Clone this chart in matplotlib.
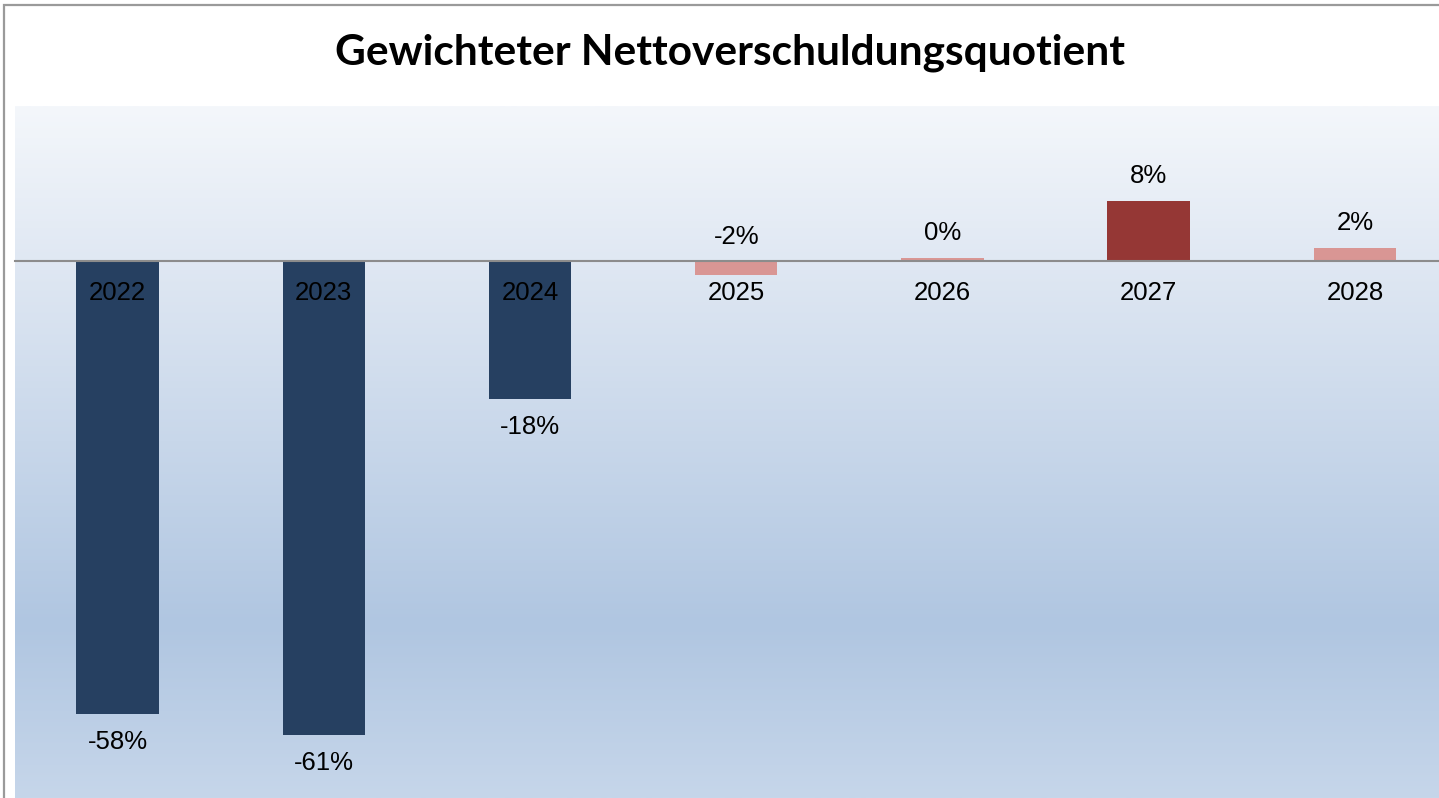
import numpy as np
import matplotlib
matplotlib.use("Agg")
from matplotlib import pyplot as plt
from matplotlib.colors import LinearSegmentedColormap

# data
years = ["2022", "2023", "2024", "2025", "2026", "2027", "2028"]
values = [-58.0, -60.7, -17.6, -1.8, 0.45, 7.75, 1.75]
bar_colors = ["#264061", "#264061", "#264061", "#D99694", "#D99694", "#953735", "#D99694"]
title = "Gewichteter Nettoverschuldungsquotient"

plt.rcParams['font.family'] = ['Liberation Sans', 'DejaVu Sans']

W, H = 1439, 798
fig = plt.figure(figsize=(W / 100, H / 100), dpi=100)

# outer chart border (right/bottom edges are cropped in the original)
fig.patches.append(plt.Rectangle((3.5 / W, -0.05), 1.1, 1 - 4.5 / H + 0.05,
                                 transform=fig.transFigure, fill=False,
                                 edgecolor="#9A9A9A", linewidth=1.6))

# plot area, runs past the right edge like the original
left, right, top = 14.5, 1458, 106
ax = fig.add_axes([left / W, 0, (right - left) / W, 1 - top / H])

# gradient fill of plot area
grad = LinearSegmentedColormap.from_list(
    "bg", [(0.0, "#F4F7FB"), (0.22, "#E0E8F3"), (0.75, "#B0C6E1"), (1.0, "#C6D6EA")])
ax.imshow(np.linspace(0, 1, 256).reshape(-1, 1), cmap=grad, aspect="auto",
          extent=[0, 1, 0, 1], transform=ax.transAxes, zorder=0)

x = np.arange(len(years))
ax.bar(x, values, width=0.40, color=bar_colors, zorder=1)

ax.set_xlim(-0.5, len(years) - 0.5)
ax.set_ylim(-68.8, 19.9)

# category axis at zero
for s in ["top", "right", "left"]:
    ax.spines[s].set_visible(False)
ax.spines["bottom"].set_position(("data", 0))
ax.spines["bottom"].set_color("#8C8C8C")
ax.spines["bottom"].set_linewidth(1.5)
ax.set_xticks(x)
ax.set_xticklabels(years, fontsize=18.5)
ax.tick_params(axis="x", length=0, pad=14.5)
ax.set_yticks([])

# value labels
for xi, v in zip(x, values):
    label = f"{round(v):.0f}%"
    if v < -5:
        ax.annotate(label, (xi, v), xytext=(0, -20.5), textcoords="offset points",
                    ha="center", va="center", fontsize=18.5)
    else:
        ax.annotate(label, (xi, max(v, 0)), xytext=(0, 17.5), textcoords="offset points",
                    ha="center", va="center", fontsize=18.5)

fig.text(730 / W, 1 - 53 / H, title, ha="center", va="center",
         fontsize=30.5, fontweight="bold", family=["Lato", "DejaVu Sans"])

fig.savefig("out.png", dpi=100)
